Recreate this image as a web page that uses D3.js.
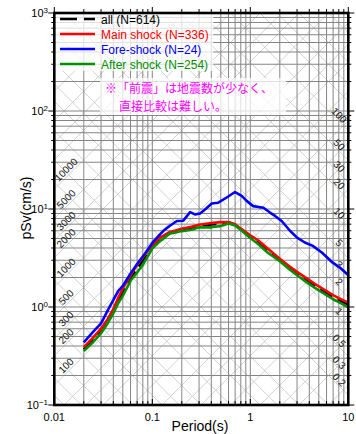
<!doctype html>
<html>
<head>
<meta charset='utf-8'>
<title>pSv spectrum</title>
<script src='https://cdn.jsdelivr.net/npm/d3@7/dist/d3.min.js'></script>
<style>
  html,body{margin:0;background:white;}
  svg{display:block;font-family:'Liberation Sans',Arial,sans-serif;}
</style>
</head>
<body>
<svg id='chart' width='356' height='434'></svg>
<script>
  /*
   * data
   */
  var periods = [0.02,0.025,0.03,0.035,0.04,0.045,0.05,0.06,0.07,0.08,0.1,0.12,0.15,0.2,0.25,0.3,0.4,0.5,0.6,0.7,0.8,1,1.2,1.5,2,2.5,3,4,5,6,7,8,10]
  var allSv   = [0.37,0.465,0.57,0.71,0.9,1.17,1.42,1.95,2.45,2.95,4.1,4.95,5.7,6.15,6.45,6.75,6.95,7.05,7.25,6.9,6.25,5.25,4.6,3.85,3.03,2.53,2.2,1.8,1.56,1.4,1.27,1.18,1.06]
  var mainSv  = [0.39,0.49,0.6,0.75,0.95,1.25,1.55,2.1,2.7,3.2,4.26,5.1,5.8,6.3,6.6,6.9,7.2,7.35,7.35,7.0,6.3,5.4,4.8,3.95,3.1,2.6,2.28,1.88,1.62,1.45,1.32,1.23,1.11]
  var afterSv = [0.356,0.44,0.54,0.68,0.86,1.1,1.3,1.85,2.25,2.7,3.94,4.7,5.6,5.95,6.15,6.5,6.5,6.7,7.1,6.8,6.1,5.05,4.4,3.6,2.93,2.43,2.11,1.71,1.48,1.32,1.2,1.12,0.99]

  var forePeriods = [0.02,0.025,0.03,0.037,0.045,0.05,0.06,0.07,0.085,0.1,0.12,0.129,0.15,0.178,0.207,0.243,0.273,0.307,0.345,0.404,0.471,0.574,0.698,0.817,0.918,1.07,1.36,1.59,1.79,2.1,2.54,3.0,3.6,4.34,5.37,6.9,8.3,10]
  var foreSv      = [0.436,0.56,0.68,1.02,1.46,1.64,2.2,2.75,3.55,4.5,5.5,5.96,6.7,7.54,7.6,9.3,8.8,9.0,9.9,11.4,11.6,13.1,14.9,13.6,12.1,10.7,10.3,9.2,8.5,7.5,6.0,5.1,4.55,4.2,3.6,2.85,2.5,2.11]

  var series = [
    {name:'all (N=614)',        color:'#000',    dash:'14,6', x:periods,     y:allSv},
    {name:'Main shock (N=336)', color:'#ff0000', dash:null,   x:periods,     y:mainSv},
    {name:'Fore-shock (N=24)',  color:'#0000ff', dash:null,   x:forePeriods, y:foreSv},
    {name:'After shock (N=254)',color:'#009000', dash:null,   x:periods,     y:afterSv}
  ]

  var xTickValues = [0.01,0.1,1,10]
  var xTickLabels = ['0.01','0.1','1','10']
  var yTickValues = [0.1,1,10,100,1000]
  var yTickExps   = ['\u22121','0','1','2','3']

  // acceleration (cm/s^2) and displacement (cm) labels on the diagonals
  var accLabels  = [100,200,300,500,1000,2000,3000,5000,10000]
  var dispLabels = [0.2,0.3,0.5,1,2,3,5,10,20,30,50,100]
  var diagSteps  = [1,2,3,5]

  var note = ['\u203b\u300c\u524d\u9707\u300d\u306f\u5730\u9707\u6570\u304c\u5c11\u306a\u304f\u3001',
              '\u76f4\u63a5\u6bd4\u8f03\u306f\u96e3\u3057\u3044\u3002']

  /*
   * frame
   */
  var L = 54.3, R = 348.3, T = 13, B = 405
  var PI2 = 2 * Math.PI

  var svg = d3.select('#chart')
  var x = d3.scaleLog().domain([0.01,10]).range([L,R])
  var y = d3.scaleLog().domain([0.1,1000]).range([B,T])

  svg.append('clipPath').attr('id','plot')
     .append('rect').attr('x',L).attr('y',T).attr('width',R-L).attr('height',B-T)

  var g = svg.append('g').attr('clip-path','url(#plot)')

  /*
   * diagonal grid
   */
  var diag = []
  for(var p=-5; p<=7; p++){
    diagSteps.forEach(function(k){ diag.push(k*Math.pow(10,p)) })
  }
  var line2 = d3.line().x(function(d){ return x(d[0]) }).y(function(d){ return y(d[1]) })

  // constant acceleration: pSv = A T / 2pi
  g.selectAll('.acc').data(diag).enter().append('path')
   .attr('d',function(a){ return line2([[0.005,a*0.005/PI2],[20,a*20/PI2]]) })
   .attr('stroke','#cccccc').attr('stroke-width',0.9).attr('fill','none')
  // constant displacement: pSv = 2pi D / T
  g.selectAll('.dis').data(diag).enter().append('path')
   .attr('d',function(d){ return line2([[0.005,PI2*d/0.005],[20,PI2*d/20]]) })
   .attr('stroke','#cccccc').attr('stroke-width',0.9).attr('fill','none')

  /*
   * log grid
   */
  g.selectAll('.vg').data(x.ticks()).enter().append('line')
   .attr('x1',function(d){ return x(d) }).attr('x2',function(d){ return x(d) })
   .attr('y1',T).attr('y2',B)
   .attr('stroke','#858585').attr('stroke-width',1)
  g.selectAll('.hg').data(y.ticks()).enter().append('line')
   .attr('y1',function(d){ return y(d) }).attr('y2',function(d){ return y(d) })
   .attr('x1',L).attr('x2',R)
   .attr('stroke','#858585').attr('stroke-width',1)

  /*
   * diagonal labels
   */
  var lab = svg.append('g').attr('font-size',10).attr('fill','#111')
  accLabels.forEach(function(a){
    var t = x.invert(70), px = 70, py = y(a*t/PI2)
    lab.append('text')
       .attr('transform','translate('+px+','+py+') rotate(-45)')
       .attr('text-anchor','middle').attr('dy',-2)
       .text(a)
  })
  dispLabels.forEach(function(d){
    var t = x.invert(336), px = 336, py = y(PI2*d/t)
    lab.append('text')
       .attr('transform','translate('+px+','+py+') rotate(45)')
       .attr('text-anchor','middle').attr('dy',-1)
       .text(d)
  })

  /*
   * legend + note backgrounds
   */
  svg.append('rect').attr('x',L+1).attr('y',T+1).attr('width',158).attr('height',57)
     .attr('fill','white').attr('opacity',0.75)
  svg.append('rect').attr('x',100).attr('y',78).attr('width',186).attr('height',37)
     .attr('fill','white').attr('opacity',0.75)

  /*
   * curves
   */
  var curve = d3.line()
  svg.append('g').attr('clip-path','url(#plot)')
     .selectAll('path').data(series).enter().append('path')
     .attr('d',function(s){ return curve(s.x.map(function(v,i){ return [x(v),y(s.y[i])] })) })
     .attr('fill','none')
     .attr('stroke',function(s){ return s.color })
     .attr('stroke-width',2.6)
     .attr('stroke-linejoin','round')
     .attr('stroke-dasharray',function(s){ return s.dash })

  /*
   * legend
   */
  var leg = svg.append('g').attr('font-size',12)
  series.forEach(function(s,i){
    var ly = 19 + i*15
    leg.append('line').attr('x1',60).attr('x2',95).attr('y1',ly).attr('y2',ly)
       .attr('stroke',s.color).attr('stroke-width',2.6)
       .attr('stroke-dasharray',s.dash ? '17,7' : null)
    leg.append('text').attr('x',101).attr('y',ly+4.5)
       .attr('fill',s.color).text(s.name)
  })

  // note, two lines
  svg.append('g').attr('font-family',"'Noto Sans CJK JP',sans-serif")
     .attr('font-size',12).attr('fill','#ff00ff')
     .selectAll('text').data(note).enter().append('text')
     .attr('x',function(d,i){ return i ? 119 : 105 })
     .attr('y',function(d,i){ return 93 + i*17.6 })
     .text(function(d){ return d })

  /*
   * axes ticks
   */
  var tk = svg.append('g').attr('stroke','#000').attr('stroke-width',1)
  x.ticks().forEach(function(v){
    var major = xTickValues.indexOf(v) >= 0, len = major ? 6 : 4
    tk.append('line').attr('x1',x(v)).attr('x2',x(v)).attr('y1',B).attr('y2',B-len)
    tk.append('line').attr('x1',x(v)).attr('x2',x(v)).attr('y1',T).attr('y2',T-len)
  })
  y.ticks().forEach(function(v){
    var major = yTickValues.indexOf(v) >= 0, len = major ? 6 : 3
    tk.append('line').attr('y1',y(v)).attr('y2',y(v)).attr('x1',L).attr('x2',L-len)
    tk.append('line').attr('y1',y(v)).attr('y2',y(v)).attr('x1',R).attr('x2',R+len)
  })

  svg.append('rect').attr('x',L).attr('y',T).attr('width',R-L).attr('height',B-T)
     .attr('fill','none').attr('stroke','#000').attr('stroke-width',2.6)

  /*
   * tick labels + titles
   */
  var xl = svg.append('g').attr('font-size',11).attr('text-anchor','middle')
  xTickValues.forEach(function(v,i){
    xl.append('text').attr('x',x(v)).attr('y',421).text(xTickLabels[i])
  })
  yTickValues.forEach(function(v,i){
    var t = svg.append('text').attr('x',48).attr('y',y(v)+4)
               .attr('text-anchor','end').attr('font-size',11)
    t.append('tspan').text('10')
    t.append('tspan').attr('dy',-4).attr('font-size',8).text(yTickExps[i])
  })

  svg.append('text').attr('x',200).attr('y',431).attr('text-anchor','middle')
     .attr('font-size',14).text('Period(s)')
  svg.append('text').attr('transform','translate(31,208) rotate(-90)')
     .attr('text-anchor','middle').attr('font-size',14).text('pSv(cm/s)')
</script>
</body>
</html>
